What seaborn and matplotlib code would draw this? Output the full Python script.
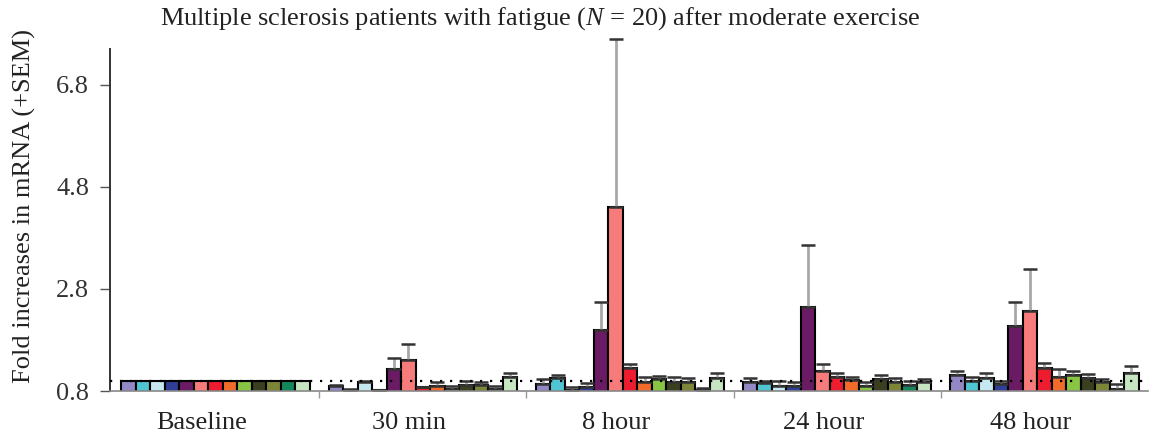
import numpy as np
import pandas as pd
import matplotlib
matplotlib.use("Agg")
import matplotlib.pyplot as plt
import matplotlib.transforms as mtransforms
import seaborn as sns

# Time points after exercise
times = ["Baseline", "30 min", "8 hour", "24 hour", "48 hour"]

# Genes measured (one bar each per time point)
genes = ["ASIC3", "P2X4", "P2X5", "TRPV1", "α2A", "β1", "β2",
         "COMT", "IL6", "IL10", "TLR4", "CD14", "TNFα"]

colors = ["#9487c6", "#4fc4d3", "#c6e9f1", "#2f3f98", "#6a1b64",
          "#f87b7b", "#ee1c2f", "#f26b2b", "#87c543", "#3a3f20",
          "#7d8637", "#13885b", "#c5e6c1"]

# Mean fold increase per gene, one list per time point
baseline = [1.00] * 13
min30 = [0.89, 0.82, 0.97, 0.81, 1.24, 1.40, 0.87, 0.90, 0.84, 0.91, 0.91, 0.84, 1.08]
hour8 = [0.94, 1.05, 0.82, 0.87, 2.00, 4.40, 1.26, 0.98, 1.03, 0.98, 0.98, 0.82, 1.05]
hour24 = [0.98, 0.95, 0.90, 0.90, 2.45, 1.20, 1.08, 1.02, 0.90, 1.03, 0.98, 0.91, 0.98]
hour48 = [1.11, 1.00, 1.05, 0.94, 2.07, 2.37, 1.25, 1.08, 1.11, 1.06, 0.97, 0.83, 1.15]

# Standard error of the mean (upper bars)
sem_baseline = [0.0] * 13
sem_min30 = [0.02, 0.01, 0.03, 0.01, 0.20, 0.32, 0.01, 0.08, 0.06, 0.08, 0.06, 0.05, 0.08]
sem_hour8 = [0.10, 0.06, 0.05, 0.09, 0.54, 3.29, 0.06, 0.10, 0.07, 0.09, 0.08, 0.04, 0.11]
sem_hour24 = [0.07, 0.05, 0.09, 0.08, 1.22, 0.12, 0.07, 0.06, 0.07, 0.08, 0.07, 0.09, 0.06]
sem_hour48 = [0.08, 0.07, 0.10, 0.06, 0.48, 0.82, 0.10, 0.15, 0.08, 0.07, 0.06, 0.10, 0.14]

means = [baseline, min30, hour8, hour24, hour48]
sems = [sem_baseline, sem_min30, sem_hour8, sem_hour24, sem_hour48]

df = pd.DataFrame(
    [(t, g, means[i][j], sems[i][j])
     for i, t in enumerate(times) for j, g in enumerate(genes)],
    columns=["time", "gene", "fold", "sem"],
)

sns.set_theme(style="white")
plt.rcParams["font.family"] = ["Liberation Serif", "DejaVu Serif"]
plt.rcParams["mathtext.fontset"] = "custom"
plt.rcParams["mathtext.it"] = "Liberation Serif:italic"
plt.rcParams["mathtext.rm"] = "Liberation Serif"

fig = plt.figure(figsize=(11.49, 4.33), dpi=100)
ax = fig.add_axes([110 / 1149, 42 / 433, 1038 / 1149, 342 / 433])

sns.barplot(data=df, x="time", y="fold", hue="gene", order=times,
            hue_order=genes, palette=colors, saturation=1, width=0.91,
            gap=0, edgecolor="black", linewidth=1.5, errorbar=None,
            legend=False, ax=ax)

# Upper SEM bars: locate each bar by its position on the category axis
bars = [p for p in ax.patches if p.get_width() > 0]
groups = {}
for p in bars:
    xc = p.get_x() + p.get_width() / 2
    groups.setdefault(int(round(xc)), []).append((xc, p))
for ti, items in groups.items():
    items.sort(key=lambda it: it[0])
    for gi, (xc, p) in enumerate(items):
        err = sems[ti][gi]
        if err <= 0:
            continue
        top = p.get_height()
        eb = ax.errorbar([xc], [top], yerr=[[0], [err]], fmt="none",
                         ecolor="#a8a8a8", elinewidth=2.0, capsize=5,
                         capthick=1.8, zorder=1)
        for cap in eb[1]:
            cap.set_markeredgecolor("#333333")
            cap.set_clip_on(False)
        for lc in eb[2]:
            lc.set_clip_on(False)

# Reference line at no change, drawn over the bars
ax.axhline(1.0, color="black", lw=1.6, ls=(0, (1, 3.5)), zorder=3)

ax.set_ylim(0.8, 7.5)
ax.set_xlim(-0.51, 4.5)
ax.set_yticks([0.8, 2.8, 4.8, 6.8])
ax.set_yticklabels(["0.8", "2.8", "4.8", "6.8"])
ax.set_xticks(range(len(times)))
ax.set_xticklabels(times)
ax.set_xticks([0.5, 1.5, 2.5, 3.5], minor=True)

for side in ["top", "right"]:
    ax.spines[side].set_visible(False)
ax.spines["left"].set_color("#333333")
ax.spines["left"].set_linewidth(1.4)
ax.spines["bottom"].set_color("#888888")
ax.spines["bottom"].set_linewidth(1.2)

ax.tick_params(axis="y", which="major", left=True, length=7, width=1,
               color="#555555", labelsize=19, labelcolor="#333333", pad=8)
ax.tick_params(axis="x", which="major", bottom=False, labelsize=19,
               labelcolor="#222222", pad=9)
ax.tick_params(axis="x", which="minor", bottom=True, length=5, width=1,
               color="#999999")

# Category labels sit slightly left of the group centres
shift = mtransforms.ScaledTranslation(-14 / 100, 0, fig.dpi_scale_trans)
for lbl in ax.get_xticklabels():
    lbl.set_transform(lbl.get_transform() + shift)

ax.set_xlabel("")
ax.set_ylabel("Fold increases in mRNA (+SEM)", fontsize=19, color="#222222")
ax.yaxis.set_label_coords(-0.071, 0.54)
fig.text(0.47, 0.958,
         r"Multiple sclerosis patients with fatigue ($N$ = 20) after moderate exercise",
         ha="center", va="center", fontsize=19, color="#222222")

fig.savefig("out.png", dpi=100)
